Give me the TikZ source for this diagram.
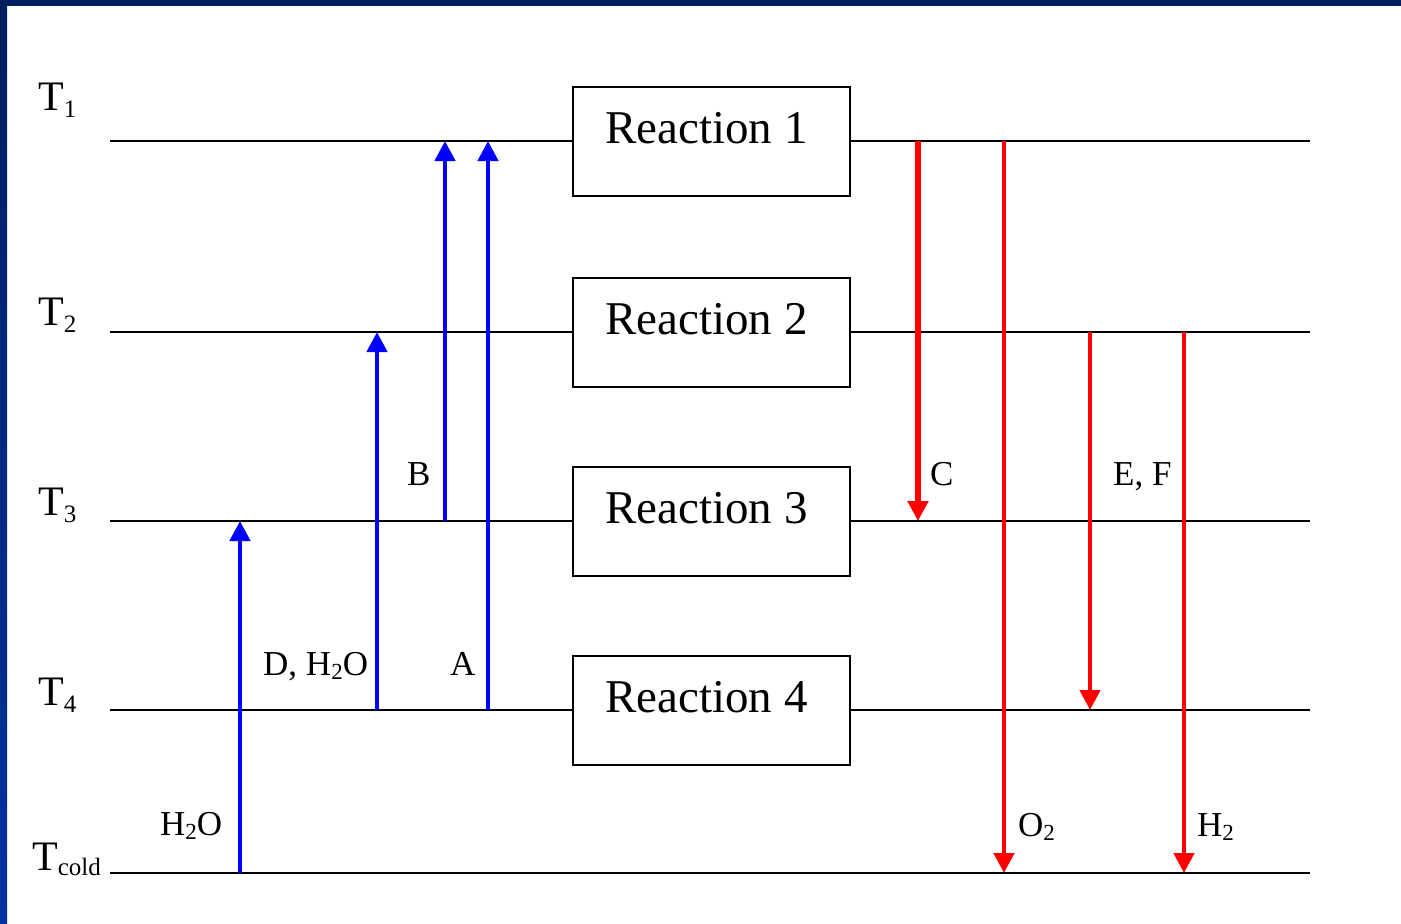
\documentclass[tikz,border=0pt]{standalone}
\usepackage{fontspec}
\setmainfont{Liberation Serif}
\usetikzlibrary{arrows.meta}
\definecolor{navy}{RGB}{0,31,95}
\definecolor{brightnavy}{RGB}{0,51,160}
\newcommand{\Tsub}[2]{T\raisebox{-#2pt}{\fontsize{25}{25}\selectfont #1}}
\newcommand{\csub}[1]{\raisebox{-4pt}{\fontsize{23}{23}\selectfont #1}}
\tikzset{
  level/.style={draw=black, line width=2.2pt},
  rbox/.style={draw=black, line width=2.2pt, fill=white},
  rtext/.style={anchor=base west, inner sep=0pt, font=\fontsize{47}{47}\selectfont},
  tlab/.style={anchor=base west, inner sep=0pt, font=\fontsize{42}{42}\selectfont},
  small/.style={anchor=base west, inner sep=0pt, font=\fontsize{35}{35}\selectfont},
  uparrow/.style={draw=blue, line width=4.5pt, -{Triangle[width=20pt,length=20pt]}},
  downarrow/.style={draw=red, line width=4.5pt, -{Triangle[width=20pt,length=20pt]}},
}
\begin{document}
\begin{tikzpicture}[x=1pt, y=-1pt]
\useasboundingbox (0,0) rectangle (1401,924);
\fill[white] (0,0) rectangle (1401,924);
\shade[top color=navy, bottom color=brightnavy] (0,0) rectangle (7,924);
\fill[navy] (0,0) rectangle (1401,6);

% level coordinates
\coordinate (L1a) at (110,141); \coordinate (L1b) at (1310,141);
\coordinate (L2a) at (110,332); \coordinate (L2b) at (1310,332);
\coordinate (L3a) at (110,521); \coordinate (L3b) at (1310,521);
\coordinate (L4a) at (110,710); \coordinate (L4b) at (1310,710);
\coordinate (L5a) at (110,873); \coordinate (L5b) at (1310,873);
\draw[level] (L1a) -- (L1b);
\draw[level] (L2a) -- (L2b);
\draw[level] (L3a) -- (L3b);
\draw[level] (L4a) -- (L4b);
\draw[level] (L5a) -- (L5b);

% reaction boxes
\draw[rbox] (573,87) rectangle (850,196);
\draw[rbox] (573,278) rectangle (850,387);
\draw[rbox] (573,467) rectangle (850,576);
\draw[rbox] (573,656) rectangle (850,765);
\node[rtext] (r1) at (605,143) {Reaction 1};
\node[rtext] (r2) at (605,334) {Reaction 2};
\node[rtext] (r3) at (605,523) {Reaction 3};
\node[rtext] (r4) at (605,712) {Reaction 4};

% level labels
\node[tlab] (t1) at (38,110) {\Tsub{1}{7}};
\node[tlab] (t2) at (38,325) {\Tsub{2}{7}};
\node[tlab] (t3) at (38,515) {\Tsub{3}{7}};
\node[tlab] (t4) at (38,705) {\Tsub{4}{7}};
\node[tlab] (t5) at (32,870) {\Tsub{cold}{5}};

% arrow end points
\coordinate (bA1) at (240,873); \coordinate (bA2) at (240,521);
\coordinate (bB1) at (377,710); \coordinate (bB2) at (377,332);
\coordinate (bC1) at (445,521); \coordinate (bC2) at (445,141);
\coordinate (bD1) at (488,710); \coordinate (bD2) at (488,141);
\coordinate (rA1) at (918,141); \coordinate (rA2) at (918,521);
\coordinate (rB1) at (1004,141); \coordinate (rB2) at (1004,873);
\coordinate (rC1) at (1090,332); \coordinate (rC2) at (1090,710);
\coordinate (rD1) at (1184,332); \coordinate (rD2) at (1184,873);

\draw[uparrow] (bA1) -- (bA2);
\draw[uparrow] (bB1) -- (bB2);
\draw[uparrow] (bC1) -- (bC2);
\draw[uparrow] (bD1) -- (bD2);
\draw[downarrow, line width=6.5pt] (rA1) -- (rA2);
\draw[downarrow] (rB1) -- (rB2);
\draw[downarrow] (rC1) -- (rC2);
\draw[downarrow] (rD1) -- (rD2);

% small labels
\node[small] (lh2o) at (160,835) {H\csub{2}O};
\node[small] (ldh2o) at (263,675) {D, H\csub{2}O};
\node[small] (lb) at (407,485) {B};
\node[small] (la) at (450,675) {A};
\node[small] (lc) at (930,485) {C};
\node[small] (lef) at (1113,485) {E, F};
\node[small] (lo2) at (1018,836) {O\csub{2}};
\node[small] (lh2) at (1197,836) {H\csub{2}};
\end{tikzpicture}
\end{document}
